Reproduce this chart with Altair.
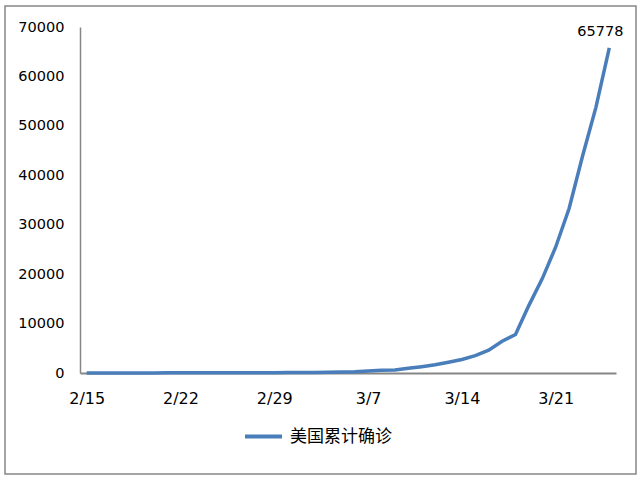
import altair as alt
import pandas as pd

# US cumulative confirmed COVID-19 cases, 2020-02-15 .. 2020-03-25
dates = [
    "2/15", "2/16", "2/17", "2/18", "2/19", "2/20", "2/21", "2/22", "2/23", "2/24",
    "2/25", "2/26", "2/27", "2/28", "2/29", "3/1", "3/2", "3/3", "3/4", "3/5",
    "3/6", "3/7", "3/8", "3/9", "3/10", "3/11", "3/12", "3/13", "3/14", "3/15",
    "3/16", "3/17", "3/18", "3/19", "3/20", "3/21", "3/22", "3/23", "3/24", "3/25",
]
cases = [
    15, 15, 15, 15, 15, 15, 35, 35, 35, 53,
    53, 59, 60, 62, 70, 76, 101, 122, 153, 221,
    278, 417, 537, 605, 959, 1281, 1663, 2179, 2726, 3499,
    4632, 6421, 7786, 13680, 19101, 25493, 33276, 43847, 53740, 65778,
]
tick_dates = ["2/15", "2/22", "2/29", "3/7", "3/14", "3/21"]
y_ticks = [0, 10000, 20000, 30000, 40000, 50000, 60000, 70000]
series_name = "美国累计确诊"

df = pd.DataFrame({"date": dates, "cases": cases, "series": series_name})
last = df.tail(1)

LINE = "#4A7EBB"
FONT = "DejaVu Sans, Noto Sans CJK SC, sans-serif"
CJK = "Noto Sans CJK SC, sans-serif"

x_enc = alt.X(
    "date:O",
    sort=dates,
    scale=alt.Scale(type="point", padding=0.5),
    axis=alt.Axis(
        values=tick_dates, title=None, labelAngle=0, ticks=False, grid=False,
        labelPadding=17, labelFontSize=16, labelColor="#000000",
        domainColor="#868686", domainWidth=2,
    ),
)
y_enc = alt.Y(
    "cases:Q",
    scale=alt.Scale(domain=[0, 70000], nice=False),
    axis=alt.Axis(
        values=y_ticks, format="d", title=None, ticks=False, grid=False,
        labelPadding=16, labelFontSize=14.5, labelColor="#000000",
        domainColor="#868686", domainWidth=1.5,
    ),
)

line = alt.Chart(df).mark_line(strokeWidth=3.5).encode(
    x=x_enc,
    y=y_enc,
    color=alt.Color(
        "series:N",
        scale=alt.Scale(range=[LINE]),
        legend=alt.Legend(
            title=None, orient="none", legendX=163, legendY=389,
            symbolType="stroke", symbolSize=1369, symbolStrokeWidth=4,
            labelFont=CJK, labelFontSize=17, labelColor="#000000", labelOffset=6,
        ),
    ),
)

label = alt.Chart(last).mark_text(
    align="center", baseline="middle", dx=-9, dy=-16, fontSize=14.5, color="#000000"
).encode(x=alt.X("date:O", sort=dates), y="cases:Q", text="cases:Q")

frame = alt.Chart(last).mark_rect(fill=None, stroke="#868686", strokeWidth=1.5).encode(
    x=alt.value(-75), x2=alt.value(556), y=alt.value(-21), y2=alt.value(447)
)

chart = (
    alt.layer(frame, line, label)
    .properties(
        width=536, height=346,
        autosize=alt.AutoSizeParams(type="none"),
        padding={"left": 80, "top": 27, "right": 24, "bottom": 107},
        background="#ffffff",
        view=alt.ViewBackground(strokeWidth=0, stroke="transparent"),
    )
    .configure_view(strokeWidth=0, stroke="transparent")
    .configure(font=FONT)
)

chart.save("out.html", embed_options={"renderer": "svg", "actions": False})
